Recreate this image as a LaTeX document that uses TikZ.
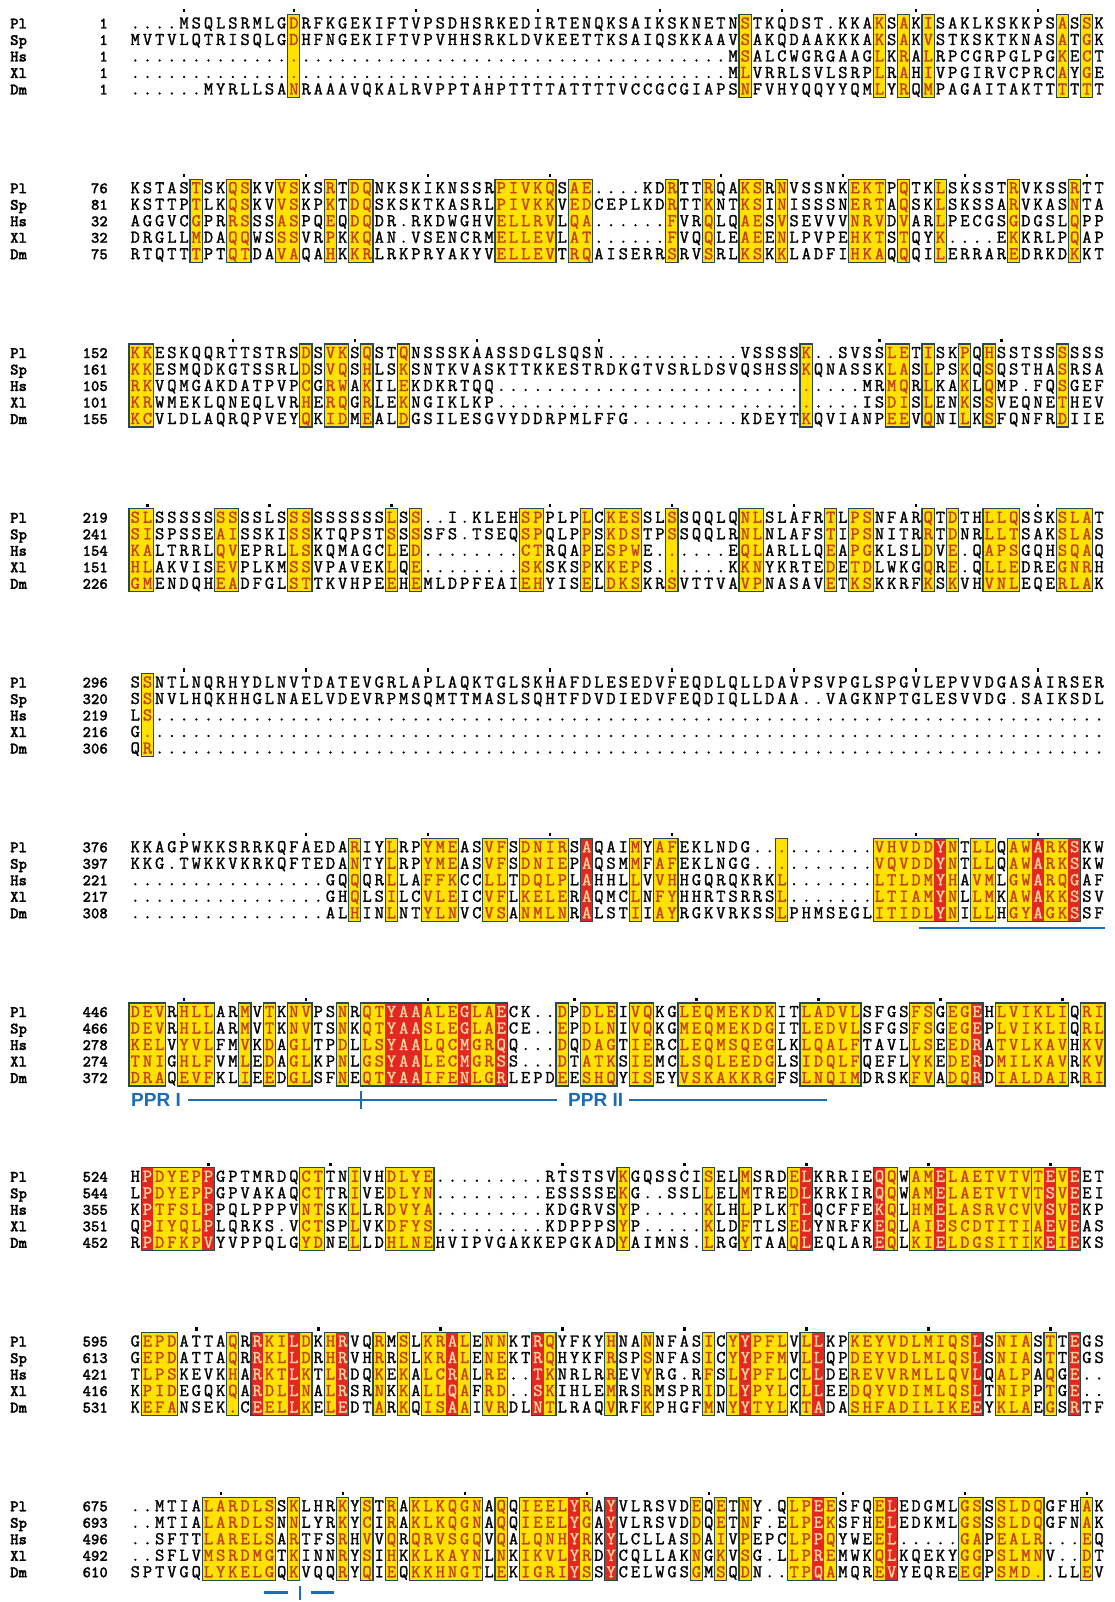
\documentclass[tikz,border=0pt]{standalone}
\usepackage{fontspec}
\newfontfamily\annofont{Liberation Sans}
\newfontfamily\seqfont{lmmono12-regular.otf}[FakeBold=1.4]
\newfontfamily\namefont{lmmonolt10-bold.otf}[FakeBold=1.2]
\definecolor{boxyel}{RGB}{255,226,0}
\definecolor{boxred}{RGB}{226,40,32}
\definecolor{boxline}{RGB}{40,72,82}
\definecolor{simtxt}{RGB}{196,64,18}
\definecolor{idtxt}{RGB}{255,214,160}
\definecolor{annoblue}{RGB}{28,108,182}

\newlength\pitch \setlength\pitch{12.2pt}
\def\pitchnum{12.2}
\def\xzero{129}
\newcount\colcnt
\newcount\rescnt
\newcount\tmpc
\newif\ifruler

\def\myrep#1#2{\ifnum#1>0 #2\expandafter\myrep\expandafter{\the\numexpr#1-1\relax}{#2}\fi}
\def\D#1{\myrep{#1}{.}}

\expandafter\def\csname cm.\endcsname{\color{black}}
\expandafter\def\csname cmy\endcsname{\color{simtxt}}
\expandafter\def\csname cmr\endcsname{\color{idtxt}}

\def\rulermark{\makebox[0pt][l]{\makebox[\pitch]{\raisebox{16pt}[0pt][0pt]{\color{black}\rule{2.4pt}{3.2pt}}}}}

\def\xseq#1#2\relax{%
  \global\advance\colcnt by 1
  \ifruler\if#1.\else
    \global\advance\rescnt by 1
    \tmpc=\rescnt \divide\tmpc by 10 \multiply\tmpc by 10
    \ifnum\tmpc=\rescnt \rulermark\else\ifnum\rescnt=1 \rulermark\fi\fi
  \fi\fi
  \makebox[\pitch]{\csname cm\csname mk\the\colcnt\endcsname\endcsname #1}%
  \ifx\relax#2\relax\def\seqnext{}\else\def\seqnext{\xseq#2\relax}\fi\seqnext}

\newcommand\setmask[2]{%
  \foreach \mcol in {1,...,85}{\expandafter\gdef\csname mk\mcol\endcsname{.}}%
  \foreach \a/\b in {#1}{\foreach \mcol in {\a,...,\b}{\expandafter\gdef\csname mk\mcol\endcsname{y}}}%
  \foreach \a/\b in {#2}{\foreach \mcol in {\a,...,\b}{\expandafter\gdef\csname mk\mcol\endcsname{r}}}%
}

\newcommand\alboxes[3]{%
  \setmask{#2}{#3}%
  \pgfmathsetmacro\btop{89+164.75*(#1-1)-66-8.5}%
  \pgfmathsetmacro\bbot{89+164.75*(#1-1)+8.5}%
  \foreach \a/\b in {#2}{\fill[boxyel] ({\xzero+\pitchnum*(\a-1)},\btop) rectangle ({\xzero+\pitchnum*\b},\bbot);}%
  \foreach \a/\b in {#3}{\ifnum\a<90 \fill[boxred] ({\xzero+\pitchnum*(\a-1)},\btop) rectangle ({\xzero+\pitchnum*\b},\bbot);\fi}%
  \foreach \a/\b in {#2}{\draw[boxedge] ({\xzero+\pitchnum*(\a-1)},\btop) rectangle ({\xzero+\pitchnum*\b},\bbot);}%
}

\newcommand\alrow[5]{%
  \pgfmathsetmacro\ry{89+164.75*(#1-1)-66+16.5*#2}%
  \node[namest] (nm-#1-#2) at (10,\ry+5.5) {#3};
  \node[numst] (nr-#1-#2) at (108,\ry+5.5) {#4};
  \edef\seqtmp{#5}%
  \node[seqst] (sq-#1-#2) at (\xzero,\ry+5.5) {\global\colcnt=0 \global\rescnt=\numexpr#4-1\relax \ifnum#2=0 \rulertrue\else\rulerfalse\fi \expandafter\xseq\seqtmp\relax};
}

\tikzset{
  namest/.style={anchor=base west, inner sep=0pt, font=\fontsize{16}{16}\selectfont\namefont},
  numst/.style={anchor=base east, inner sep=0pt, font=\fontsize{16}{16}\selectfont\namefont},
  seqst/.style={anchor=base west, inner sep=0pt, font=\fontsize{18}{18}\selectfont\seqfont},
  boxedge/.style={draw=boxline, line width=1.1pt},
  annoline/.style={draw=annoblue, line width=2pt},
  annotext/.style={anchor=base west, inner sep=0pt, text=annoblue, font=\fontsize{19}{19}\selectfont\annofont\bfseries},
}

\begin{document}
\begin{tikzpicture}[x=1pt,y=-1pt]
\fill[white] (0,0) rectangle (1114,1602);
\useasboundingbox (0,0) rectangle (1114,1602);

% ---------- block 1
\alboxes{1}{14/14,51/51,62/62,64/64,66/66,77/77,79/79}{99/99}
\alrow{1}{0}{Pl}{1}{....MSQLSRMLGDRFKGEKIFTVPSDHSRKEDIRTENQKSAIKSKNETNSTKQDST.KKAKSAKISAKLKSKKPSASSK}
\alrow{1}{1}{Sp}{1}{MVTVLQTRISQLGDHFNGEKIFTVPVHHSRKLDVKEETTKSAIQSKKAAVSAKQDAAKKKAKSAKVSTKSKTKNASATGK}
\alrow{1}{2}{Hs}{1}{\D{49}MSALCWGRGAAGLKRALRPCGRPGLPGKECT}
\alrow{1}{3}{Xl}{1}{\D{49}MLVRRLSVLSRPLRAHIVPGIRVCPRCAYGE}
\alrow{1}{4}{Dm}{1}{......MYRLLSANRAAAVQKALRVPPTAHPTTTTATTTTVCCGCGIAPSNFVHYQQYYQMLYRQMPAGAITAKTTTTTT}

% ---------- block 2
\alboxes{2}{6/6,9/10,13/14,17/17,19/20,31/35,37/38,45/45,48/48,51/52,54/54,60/62,64/64,67/67,73/73,78/78}{99/99}
\alrow{2}{0}{Pl}{76}{KSTASTSKQSKVVSKSRTDQNKSKIKNSSRPIVKQSAE....KDRTTRQAKSRNVSSNKEKTPQTKLSKSSTRVKSSRTT}
\alrow{2}{1}{Sp}{81}{KSTTPTLKQSKVVSKPKTDQSKSKTKASRLPIVKKVEDCEPLKDRTTKNTKSINISSSNERTAQSKLSKSSARVKASNTA}
\alrow{2}{2}{Hs}{32}{AGGVCGPRRSSSASPQEQDQDR.RKDWGHVELLRVLQA......FVRQLQAESVSEVVVNRVDVARLPECGSGDGSLQPP}
\alrow{2}{3}{Xl}{32}{DRGLLMDAQQWSSSVRPKKQAN.VSENCRMELLEVLAT......FVQQLEAEENLPVPEHKTSTQYK....EKKRLPQAP}
\alrow{2}{4}{Dm}{75}{RTQTTTPTQTDAVAQAHKKRLRKPRYAKYVELLEVTRQAISERRSRVSRLKSKKLADFIHKAQQQILERRAREDRKDKKT}

% ---------- block 3
\alboxes{3}{1/2,15/15,17/18,20/20,23/23,56/56,63/64,66/66,69/69,71/71,77/77}{99/99}
\alrow{3}{0}{Pl}{152}{KKESKQQRTTSTRSDSVKSQSTQNSSSKAASSDGLSQSN\D{11}VSSSSK..SVSSLETISKPQHSSTSSSSSS}
\alrow{3}{1}{Sp}{161}{KKESMQDKGTSSRLDSVQSHLSKSNTKVASKTTKKESTRDKGTVSRLDSVQSHSSKQNASSKLASLPSKQSQSTHASRSA}
\alrow{3}{2}{Hs}{105}{RKVQMGAKDATPVPCGRWAKILEKDKRTQQ\D{30}MRMQRLKAKLQMP.FQSGEF}
\alrow{3}{3}{Xl}{101}{KRWMEKLQNEQLVRHERQGRLEKNGIKLKP\D{30}ISDISLENKSSVEQNETHEV}
\alrow{3}{4}{Dm}{155}{KCVLDLAQRQPVEYQKIDMEALDGSILESGVYDDRPMLFFG\D{9}KDEYTKQVIANPEEVQNILKSFQNFRDIIE}

% ---------- block 4
\alboxes{4}{1/2,8/9,14/15,22/22,24/24,33/34,38/38,40/42,45/45,51/52,58/58,60/61,66/66,68/68,71/73,77/79}{99/99}
\alrow{4}{0}{Pl}{219}{SL\myrep{9}{S}L\myrep{9}{S}LSS..I.KLEHSPPLPLCKESSLSSQQLQNLSLAFRTLPSNFARQTDTHLLQSSKSLAT}
\alrow{4}{1}{Sp}{241}{SISPSSEAISSKISSKTQPSTSSSSFS.TSEQSPQLPPSKDSTPSSQQLRNLNLAFSTIPSNITRRTDNRLLTSAKSLAS}
\alrow{4}{2}{Hs}{154}{KALTRRLQVEPRLLSKQMAGCLED\D{8}CTRQAPESPWE\D{6}EQLARLLQEAPGKLSLDVE.QAPSGQHSQAQ}
\alrow{4}{3}{Xl}{151}{HLAKVISEVPLKMSSVPAVEKLQE\D{8}SKSKSPKKEPS\D{6}KKNYKRTEDETDLWKGQRE.QLLEDREGNRH}
\alrow{4}{4}{Dm}{226}{GMENDQHEADFGLSTTKVHPEEHEMLDPFEAIEHYISELDKSKRSVTTVAVPNASAVETKSKKRFKSKVHVNLEQERLAK}

% ---------- block 5
\alboxes{5}{2/2}{99/99}
\alrow{5}{0}{Pl}{296}{SSNTLNQRHYDLNVTDATEVGRLAPLAQKTGLSKHAFDLESEDVFEQDLQLLDAVPSVPGLSPGVLEPVVDGASAIRSER}
\alrow{5}{1}{Sp}{320}{SSNVLHQKHHGLNAELVDEVRPMSQMTTMASLSQHTFDVDIEDVFEQDIQLLDAA..VAGKNPTGLESVVDG.SAIKSDL}
\alrow{5}{2}{Hs}{219}{LS\D{78}}
\alrow{5}{3}{Xl}{216}{G\D{79}}
\alrow{5}{4}{Dm}{306}{QR\D{78}}

% ---------- block 6
\alboxes{6}{19/19,22/22,25/27,30/31,33/36,38/38,42/42,44/45,54/54,62/68,70/71,73/78}{38/38,67/67,75/75,78/78}
\alrow{6}{0}{Pl}{376}{KKAGPWKKSRRKQFAEDARIYLRPYMEASVFSDNIRSAQAIMYAFEKLNDG\D{10}VHVDDYNTLLQAWARKSKW}
\alrow{6}{1}{Sp}{397}{KKG.TWKKVKRKQFTEDANTYLRPYMEASVFSDNIEPAQSMMFAFEKLNGG\D{10}VQVDDYNTLLQAWARKSKW}
\alrow{6}{2}{Hs}{221}{\D{16}GQQQRLLAFFKCCLLTDQLPLAHHLLVVHHGQRQKRKL\D{7}LTLDMYHAVMLGWARQGAF}
\alrow{6}{3}{Xl}{217}{\D{16}GHQLSILCVLEICVFLKELERAQMCLNFYHHRTSRRSL\D{7}LTIAMYNLLMKAWAKKSSV}
\alrow{6}{4}{Dm}{308}{\D{16}ALHINLNTYLNVCVSANMLNRALSTIIAYRGKVRKSSLPHMSEGLITIDLYNILLHGYAGKSSF}

% ---------- block 7
\alboxes{7}{1/3,5/7,10/10,12/12,14/15,18/18,20/31,36/36,38/40,42/43,46/53,56/60,65/66,68/70,72/77,79/80}{22/24,28/28,31/31,70/70}
\alrow{7}{0}{Pl}{446}{DEVRHLLARMVTKNVPSNRQTYAAALEGLAECK..DPDLEIVQKGLEQMEKDKITLADVLSFGSFSGEGEHLVIKLIQRI}
\alrow{7}{1}{Sp}{466}{DEVRHLLARMVTKNVTSNKQTYAASLEGLAECE..EPDLNIVQKGMEQMEKDGITLEDVLSFGSFSGEGEPLVIKLIQRL}
\alrow{7}{2}{Hs}{278}{KELVYVLFMVKDAGLTPDLLSYAALQCMGRQQ...DQDAGTIERCLEQMSQEGLKLQALFTAVLLSEEDRATVLKAVHKV}
\alrow{7}{3}{Xl}{274}{TNIGHLFVMLEDAGLKPNLGSYAALECMGRSS...DTATKSIEMCLSQLEEDGLSIDQLFQEFLYKEDERDMILKAVRKV}
\alrow{7}{4}{Dm}{372}{DRAQEVFKLIEEDGLSFNEQTYAAIFENLGRLEPDEESHQYISEYVSKAKKRGFSLNQIMDRSKFVADQRDIALDAIRRI}

% ---------- block 8
\alboxes{8}{2/7,15/16,19/19,22/25,41/41,48/48,51/51,55/56,62/63,65/74,75/78}{2/2,7/7,56/56,62/62,67/67,76/76,78/78}
\alrow{8}{0}{Pl}{524}{HPDYEPPGPTMRDQCTTNIVHDLYE\D{9}RTSTSVKGQSSCISELMSRDELKRRIEQQWAMELAETVTVTEVEET}
\alrow{8}{1}{Sp}{544}{LPDYEPPGPVAKAQCTTRIVEDLYN\D{9}ESSSSEKG..SSLLELMTREDLKRKIRQQWAMELAETVTVTSVEEI}
\alrow{8}{2}{Hs}{355}{KPTFSLPPQLPPPVNTSKLLRDVYA\D{9}KDGRVSYP.....KLHLPLKTLQCFFEKQLHMELASRVCVVSVEKP}
\alrow{8}{3}{Xl}{351}{QPIYQLPLQRKS.VCTSPLVKDFYS\D{9}KDPPPSYP.....KLDFTLSELYNRFKEQLAIESCDTITIAEVEAS}
\alrow{8}{4}{Dm}{452}{RPDFKPVYVPPQLGYDNELLDHLNEHVIPVGAKKEPGKADYAIMNS.LRGYTAAQLEQLAREQLKIELDGSITIKEIEKS}

% ---------- block 9
\alboxes{9}{2/4,9/9,11/15,17/18,21/21,23/23,25/28,30/31,34/35,40/40,43/43,48/48,50/54,56/57,60/70,72/74,76/76,78/78}{11/11,14/14,18/18,27/27,34/34,51/51,57/57,70/70,78/78}
\alrow{9}{0}{Pl}{595}{GEPDATTAQRRKILDKHRVQRMSLKRALENNKTRQYFKYHNANNFASICYYPFLVLLKPKEYVDLMIQSLSNIASTTEGS}
\alrow{9}{1}{Sp}{613}{GEPDATTAQRRKLLDRHRVHRRSLKRALENEKTRQHYKFRSPSNFASICYYPFMVLLQPDEYVDLMLQSLSNIASTTEGS}
\alrow{9}{2}{Hs}{421}{TLPSKEVKHARKTLKTLRDQKEKALCRALRE..TKNRLRREVYRG.RFSLYPFLCLLDEREVVRMLLQVLQALPAQGE..}
\alrow{9}{3}{Xl}{416}{KPIDEGQKQARDLLNALRSRNKKALLQAFRD..SKIHLEMRSRMSPRIDLYPYLCLLEEDQYVDIMLQSLTNIPPTGE..}
\alrow{9}{4}{Dm}{531}{KEFANSEK.CEELLKELEDTARKQISAAIVRDLNTLRAQVRFKPHGFMNYYTYLKTADASHFADILIKEEYKLAEGSRTF}

% ---------- block 10
\alboxes{10}{7/12,14/14,18/18,20/20,22/22,24/29,31/31,33/38,40/40,47/47,49/49,51/51,55/58,62/63,69/70,72/75,79/79}{37/37,40/40,57/57,63/63}
\alrow{10}{0}{Pl}{675}{..MTIALARDLSSKLHRKYSTRAKLKQGNAQQIEELYRAYVLRSVDEQETNY.QLPEESFQELEDGMLGSSSLDQGFHAK}
\alrow{10}{1}{Sp}{693}{..MTIALARDLSNNLYRKYCIRAKLKQGNAQQIEELYGAYVLRSVDDQETNF.ELPEKSFHELEDKMLGSSSLDQGFNAK}
\alrow{10}{2}{Hs}{496}{..SFTTLARELSARTFSRHVVQRQRVSGQVQALQNHYRKYLCLLASDAIVPEPCLPPQYWEEL.....GAPEALR...EQ}
\alrow{10}{3}{Xl}{492}{..SFLVMSRDMGTKINNRYSIHKKLKAYNLNKIKVLYRDYCQLLAKNGKVSG.LLPREMWKQLKQEKYGGPSLMNV..DT}
\alrow{10}{4}{Dm}{610}{SPTVGQLYKELGQKVQQRYQIEQKKHNGTLEKIGRIYSSYCELWGSGMSQDN..TPQAMQREVYEQREEGPSMD..LLEV}

% ---------- annotations
\pgfmathsetmacro\ua{89+164.75*5+15}
\coordinate (u1) at (919,\ua);
\coordinate (u2) at (1105,\ua);
\draw[annoline] (u1) -- (u2);

\pgfmathsetmacro\ub{89+164.75*6+22}
\node[annotext] (ppr1) at (131,\ub+7) {PPR I};
\coordinate (p1a) at (188,\ub);
\coordinate (p1b) at (557,\ub);
\coordinate (p1t) at (361,\ub-9);
\coordinate (p1s) at (361,\ub+9);
\draw[annoline] (p1a) -- (p1b);
\draw[annoline] (p1t) -- (p1s);
\node[annotext] (ppr2) at (568,\ub+7) {PPR II};
\coordinate (p2a) at (629,\ub);
\coordinate (p2b) at (827,\ub);
\draw[annoline] (p2a) -- (p2b);

\pgfmathsetmacro\uc{89+164.75*9+21}
\coordinate (t1a) at (264,\uc);
\coordinate (t1b) at (288,\uc);
\coordinate (t2a) at (311,\uc);
\coordinate (t2b) at (334,\uc);
\coordinate (t3a) at (300,\uc-7);
\coordinate (t3b) at (300,\uc+7);
\draw[annoline, line width=2.6pt] (t1a) -- (t1b);
\draw[annoline, line width=2.6pt] (t2a) -- (t2b);
\draw[annoline, line width=2.6pt] (t3a) -- (t3b);
\end{tikzpicture}
\end{document}
